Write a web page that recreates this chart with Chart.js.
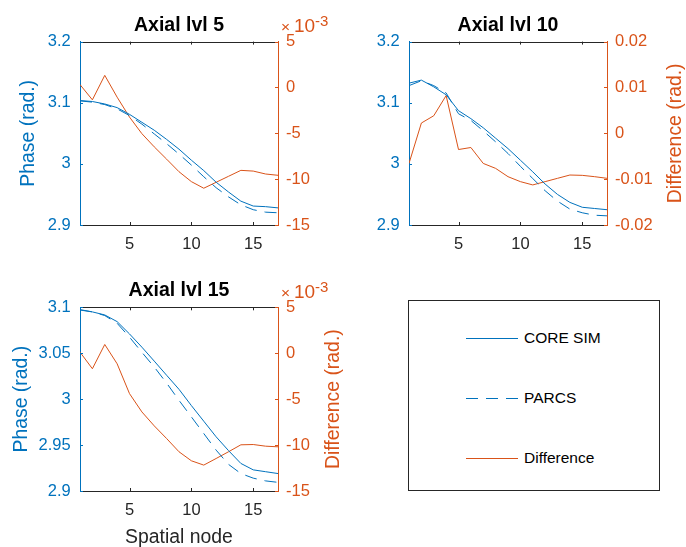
<!DOCTYPE html>
<html>
<head>
<meta charset="utf-8">
<script src="https://cdn.jsdelivr.net/npm/chart.js@4.4.1/dist/chart.umd.min.js"></script>
<style>
html, body { margin: 0; padding: 0; background: #fff; width: 686px; height: 547px; overflow: hidden; }
.plot { position: absolute; }
#legend { position: absolute; left: 408px; top: 300px; width: 250px; height: 189px; border: 1px solid #262626; background: #fff;
  font-family: "Liberation Sans", Arial, sans-serif; font-size: 15.5px; color: #000; }
.item { position: absolute; left: 57px; height: 20px; display: flex; align-items: center; }
.ln { width: 52px; height: 1px; margin-right: 6px; }
</style>
</head>
<body>
<div class="plot" style="left:0;top:0;width:358px;height:265px"><canvas id="c5"></canvas></div>
<div class="plot" style="left:330px;top:0;width:356px;height:265px"><canvas id="c10"></canvas></div>
<div class="plot" style="left:0;top:270px;width:358px;height:277px"><canvas id="c15"></canvas></div>
<div id="legend">
  <div class="item" style="top:27px"><div class="ln" style="background:#0072BD"></div>CORE SIM</div>
  <div class="item" style="top:87px"><div class="ln" style="background:repeating-linear-gradient(to right,#0072BD 0 12px,transparent 12px 20px)"></div>PARCS</div>
  <div class="item" style="top:147px"><div class="ln" style="background:#D95319"></div>Difference</div>
</div>
<script>
const nodes = [1, 2, 3, 4, 5, 6, 7, 8, 9, 10, 11, 12, 13, 14, 15, 16, 17];
const xTicks = [5, 10, 15];

// axial level 5
const core5 = [3.1036, 3.102, 3.098, 3.092, 3.081, 3.068, 3.055, 3.040, 3.024, 3.006, 2.989, 2.970, 2.954, 2.939, 2.931, 2.930, 2.928];
const parcs5 = [3.103, 3.101, 3.097, 3.090, 3.079, 3.065, 3.049, 3.033, 3.016, 2.998, 2.979, 2.961, 2.946, 2.933, 2.925, 2.921, 2.920];
const diff5 = [0.31e-3, -1.35e-3, 1.32e-3, -1.06e-3, -3.23e-3, -5.04e-3, -6.48e-3, -7.82e-3, -9.19e-3, -10.27e-3, -10.99e-3, -10.34e-3, -9.69e-3, -9.04e-3, -9.12e-3, -9.44e-3, -9.58e-3];

// axial level 10
const core10 = [3.132, 3.137, 3.126, 3.113, 3.087, 3.074, 3.059, 3.042, 3.025, 3.006, 2.987, 2.967, 2.950, 2.937, 2.929, 2.927, 2.925];
const parcs10 = [3.128, 3.136, 3.128, 3.116, 3.082, 3.071, 3.054, 3.036, 3.017, 2.996, 2.976, 2.956, 2.939, 2.926, 2.920, 2.916, 2.915];
const diff10 = [-0.00657, 0.00224, 0.00383, 0.00823, -0.00354, -0.00310, -0.00657, -0.00765, -0.00946, -0.01054, -0.01126, -0.01054, -0.00982, -0.00910, -0.00917, -0.00946, -0.00982];

// axial level 15
const core15 = [3.0975, 3.095, 3.0917, 3.0844, 3.071, 3.0566, 3.0414, 3.026, 3.0107, 2.993, 2.976, 2.959, 2.944, 2.930, 2.923, 2.921, 2.919];
const parcs15 = [3.097, 3.095, 3.091, 3.0826, 3.0675, 3.051, 3.035, 3.0175, 2.9987, 2.9807, 2.9626, 2.9445, 2.929, 2.919, 2.914, 2.911, 2.9094];
const diff15 = [0.12e-3, -1.69e-3, 0.95e-3, -1.15e-3, -4.40e-3, -6.39e-3, -7.91e-3, -9.29e-3, -10.73e-3, -11.71e-3, -12.18e-3, -11.46e-3, -10.73e-3, -9.97e-3, -9.94e-3, -10.12e-3, -10.19e-3];

const FONT = '"Liberation Sans", Arial, sans-serif';
const BLUE = '#0072BD', ORANGE = '#D95319', DARK = '#262626';

function pts(ys) { return nodes.map((n, i) => ({ x: n, y: ys[i] })); }
function num(v) { return String(Number(v.toFixed(3))); }

// matlab style box: top edge, inward ticks, axis labels, x10^-3 exponent
const matlabFrame = {
  id: 'matlabFrame',
  afterDraw(chart, args, o) {
    const { ctx, chartArea: a, scales } = chart;
    const t = 3;
    ctx.save();
    ctx.lineWidth = 1;
    ctx.strokeStyle = DARK;
    ctx.beginPath();
    ctx.moveTo(a.left, Math.round(a.top) + 0.5);
    ctx.lineTo(a.right, Math.round(a.top) + 0.5);
    scales.x.ticks.forEach(tk => {
      const px = Math.round(scales.x.getPixelForValue(tk.value)) + 0.5;
      ctx.moveTo(px, a.bottom); ctx.lineTo(px, a.bottom - t);
      ctx.moveTo(px, a.top); ctx.lineTo(px, a.top + t);
    });
    ctx.stroke();
    ctx.strokeStyle = BLUE;
    ctx.beginPath();
    scales.y.ticks.forEach(tk => {
      const py = Math.round(scales.y.getPixelForValue(tk.value)) + 0.5;
      ctx.moveTo(a.left, py); ctx.lineTo(a.left + t, py);
    });
    ctx.stroke();
    ctx.strokeStyle = ORANGE;
    ctx.beginPath();
    scales.y2.ticks.forEach(tk => {
      const py = Math.round(scales.y2.getPixelForValue(tk.value)) + 0.5;
      ctx.moveTo(a.right, py); ctx.lineTo(a.right - t, py);
    });
    ctx.stroke();

    ctx.textAlign = 'center';
    ctx.textBaseline = 'middle';
    ctx.font = '19.4px ' + FONT;
    const midY = (a.top + a.bottom) / 2;
    if (o.yTitle) {
      ctx.fillStyle = BLUE;
      ctx.save(); ctx.translate(a.left - o.yTitleOff, midY); ctx.rotate(-Math.PI / 2);
      ctx.fillText(o.yTitle, 0, 0); ctx.restore();
    }
    if (o.y2Title) {
      ctx.fillStyle = ORANGE;
      ctx.save(); ctx.translate(a.right + o.y2TitleOff, midY); ctx.rotate(-Math.PI / 2);
      ctx.fillText(o.y2Title, 0, 0); ctx.restore();
    }
    if (o.xTitle) {
      ctx.fillStyle = DARK;
      ctx.fillText(o.xTitle, (a.left + a.right) / 2, a.bottom + 47);
    }
    if (o.expo) {
      ctx.fillStyle = ORANGE;
      ctx.textAlign = 'left';
      ctx.textBaseline = 'alphabetic';
      ctx.font = '15.5px ' + FONT;
      ctx.fillText('\u00d7', a.right + 3, a.top - 9.3);
      ctx.font = '19px ' + FONT;
      ctx.fillText('10', a.right + 16, a.top - 9.3);
      ctx.font = '15px ' + FONT;
      ctx.fillText('-3', a.right + 37, a.top - 15.3);
    }
    ctx.restore();
  }
};

function makeChart(id, title, titlePad, core, parcs, diff, yOpt, y2Opt, frame, xH) {
  new Chart(document.getElementById(id), {
    type: 'line',
    data: {
      datasets: [
        { label: 'CORE SIM', data: pts(core), yAxisID: 'y', borderColor: BLUE, borderWidth: 1, pointRadius: 0 },
        { label: 'PARCS', data: pts(parcs), yAxisID: 'y', borderColor: BLUE, borderWidth: 1, borderDash: [12, 8], pointRadius: 0 },
        { label: 'Difference', data: pts(diff), yAxisID: 'y2', borderColor: ORANGE, borderWidth: 1, pointRadius: 0 }
      ]
    },
    options: {
      responsive: true,
      maintainAspectRatio: false,
      animation: false,
      layout: { padding: 0 },
      plugins: {
        legend: { display: false },
        tooltip: { enabled: false },
        title: { display: true, text: title, color: '#000', font: { family: FONT, size: 19.5, weight: 'bold', lineHeight: 1.2 }, padding: titlePad },
        matlabFrame: frame
      },
      scales: {
        x: {
          type: 'linear', min: 1, max: 17,
          afterBuildTicks: s => { s.ticks = xTicks.map(v => ({ value: v })); },
          afterFit: s => { s.height = xH; },
          grid: { display: false, drawTicks: false },
          border: { display: true, color: DARK, width: 1 },
          ticks: { color: DARK, font: { family: FONT, size: 16.5 }, padding: 10, maxRotation: 0, callback: v => String(v) }
        },
        y: {
          position: 'left', min: yOpt.min, max: yOpt.max,
          afterFit: s => { s.width = yOpt.w; },
          grid: { display: false, drawTicks: false },
          border: { display: true, color: BLUE, width: 1 },
          ticks: { stepSize: yOpt.step, color: BLUE, font: { family: FONT, size: 16.5 }, padding: 9.3, callback: v => num(v) }
        },
        y2: {
          position: 'right', min: y2Opt.min, max: y2Opt.max,
          afterFit: s => { s.width = y2Opt.w; },
          grid: { display: false, drawTicks: false },
          border: { display: true, color: ORANGE, width: 1 },
          ticks: { stepSize: y2Opt.step, color: ORANGE, font: { family: FONT, size: 16.5 }, padding: 8, callback: y2Opt.fmt }
        }
      }
    },
    plugins: [matlabFrame]
  });
}

const milli = v => String(Math.round(v * 1000));

makeChart('c5', 'Axial lvl 5', { top: 14.1, bottom: 4.1 }, core5, parcs5, diff5,
  { min: 2.9, max: 3.2, step: 0.1, w: 80 },
  { min: -0.015, max: 0.005, step: 0.005, w: 80, fmt: milli },
  { yTitle: 'Phase (rad.)', yTitleOff: 51, expo: true }, 40);

makeChart('c10', 'Axial lvl 10', { top: 14.1, bottom: 4.1 }, core10, parcs10, diff10,
  { min: 2.9, max: 3.2, step: 0.1, w: 79 },
  { min: -0.02, max: 0.02, step: 0.01, w: 79, fmt: v => num(v) },
  { y2Title: 'Difference (rad.)', y2TitleOff: 69 }, 40);

makeChart('c15', 'Axial lvl 15', { top: 9.4, bottom: 4.5 }, core15, parcs15, diff15,
  { min: 2.9, max: 3.1, step: 0.05, w: 80 },
  { min: -0.015, max: 0.005, step: 0.005, w: 80, fmt: milli },
  { yTitle: 'Phase (rad.)', yTitleOff: 58.3, y2Title: 'Difference (rad.)', y2TitleOff: 55.5, xTitle: 'Spatial node', expo: true }, 56);
</script>
</body>
</html>
